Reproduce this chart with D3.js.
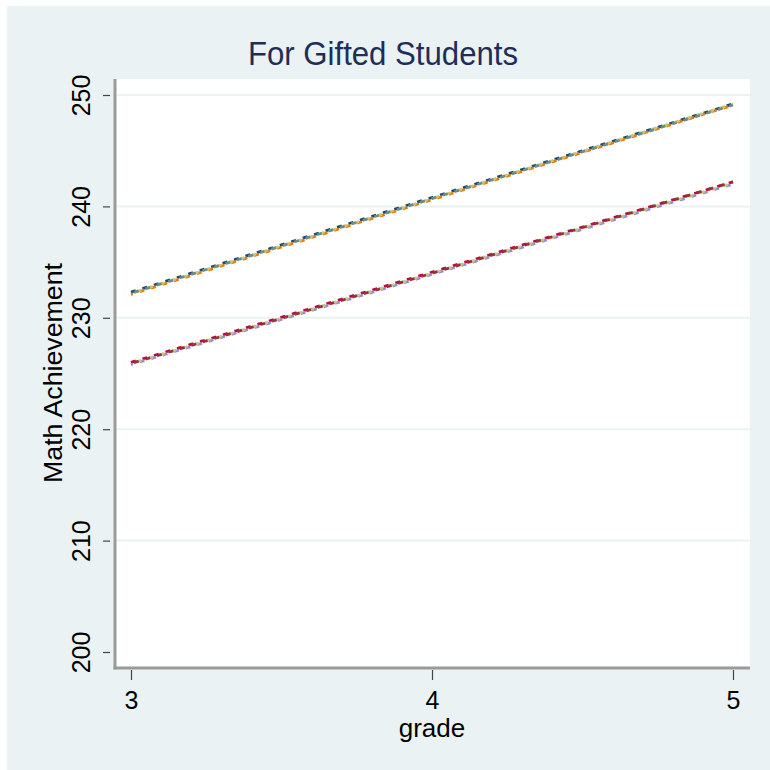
<!DOCTYPE html>
<html>
<head>
<meta charset="utf-8">
<script src="https://cdn.jsdelivr.net/npm/d3@7"></script>
<style>
  html, body { margin: 0; padding: 0; background: #eaf2f3; overflow: hidden; }
  svg { display: block; }
  text { font-family: "Liberation Sans", Arial, sans-serif; }
</style>
</head>
<body>
<script>
// ---- data ----
const grades = [3, 4, 5];
const yTicks = [200, 210, 220, 230, 240, 250];
const xTicks = [3, 4, 5];
const titleText = "For Gifted Students";
const xTitle = "grade";
const yTitle = "Math Achievement";

// upper group of overlapping fitted lines
const upperA = [232.3, 240.8, 249.2];
const upperB = [232.1, 240.6, 249.1];
const upperC = [232.2, 240.7, 249.2];
const upperD = [232.2, 240.7, 249.1];
// lower group of overlapping fitted lines
const lowerA = [226.0, 234.1, 242.2];
const lowerB = [225.8, 233.9, 242.0];
const lowerC = [225.9, 234.0, 242.1];
const lowerD = [225.9, 234.0, 242.2];

const seriesValues = [upperA, upperB, upperC, upperD, lowerA, lowerB, lowerC, lowerD];
const seriesColors = ["#1a476f", "#e37e00", "#cac27e", "#6e8e84",
                      "#c10534", "#938dd2", "#cac27e", "#90353b"];

// ---- drawing ----
const W = 770, H = 770;
const svg = d3.select("body").append("svg").attr("width", W).attr("height", H);

// white outer strips (top / left)
svg.append("rect").attr("x", 0).attr("y", 0).attr("width", W).attr("height", H).attr("fill", "#ffffff");
svg.append("rect").attr("x", 7).attr("y", 6).attr("width", W - 7).attr("height", H - 6)
  .attr("fill", "#eaf2f3");

const plot = { left: 115, right: 750, top: 79, bottom: 668 };
svg.append("rect").attr("x", plot.left).attr("y", plot.top)
  .attr("width", plot.right - plot.left).attr("height", plot.bottom - plot.top)
  .attr("fill", "#ffffff");

const x = d3.scaleLinear().domain([3, 5]).range([131, 733]);
const y = d3.scaleLinear().domain([200, 250]).range([652, 95]);

// gridlines
svg.append("g").selectAll("line").data(yTicks.filter(d => d > 200)).join("line")
  .attr("x1", plot.left + 2).attr("x2", plot.right)
  .attr("y1", d => y(d)).attr("y2", d => y(d))
  .attr("stroke", "#eaf2f3").attr("stroke-width", 2);

// axes
const yAxis = d3.axisLeft(y).tickValues(yTicks).tickFormat(d3.format("d")).tickSize(7).tickPadding(5);
const gy = svg.append("g").attr("transform", `translate(${plot.left - 5},0)`).call(yAxis);
gy.select(".domain").remove();
gy.selectAll(".tick line").attr("stroke", "#444").attr("stroke-width", 1.2);
gy.selectAll(".tick text")
  .attr("font-size", 25).attr("fill", "#000")
  .attr("x", null).attr("dy", null).attr("y", 0)
  .attr("text-anchor", "middle")
  .attr("transform", `translate(-20,0) rotate(-90)`);

const xAxis = d3.axisBottom(x).tickValues(xTicks).tickFormat(d3.format("d")).tickSize(10).tickPadding(6);
const gx = svg.append("g").attr("transform", `translate(0,${plot.bottom + 2})`).call(xAxis);
gx.select(".domain").remove();
gx.selectAll(".tick line").attr("stroke", "#444").attr("stroke-width", 1.2);
gx.selectAll(".tick text").attr("font-size", 25).attr("fill", "#000").attr("dy", "0.9em");

// axis lines
svg.append("line").attr("x1", plot.left).attr("x2", plot.left)
  .attr("y1", plot.top).attr("y2", plot.bottom + 1.5)
  .attr("stroke", "#9a9a9a").attr("stroke-width", 3);
svg.append("line").attr("x1", plot.left - 1.5).attr("x2", plot.right)
  .attr("y1", plot.bottom).attr("y2", plot.bottom)
  .attr("stroke", "#9a9a9a").attr("stroke-width", 3);

// lines
const line = d3.line().x((d, i) => x(grades[i])).y(d => y(d));
svg.append("g").selectAll("path").data(seriesValues).join("path")
  .attr("d", d => line(d))
  .attr("fill", "none")
  .attr("stroke", (d, i) => seriesColors[i])
  .attr("stroke-width", 2.8)
  .attr("stroke-dasharray", "5,7")
  .attr("stroke-dashoffset", (d, i) => (i % 4) * 3);

// titles
svg.append("text").attr("x", 383).attr("y", 65).attr("text-anchor", "middle")
  .attr("font-size", 34).attr("fill", "#1e2d5a")
  .attr("textLength", 270).attr("lengthAdjust", "spacingAndGlyphs")
  .text(titleText);

svg.append("text").attr("x", 432).attr("y", 737).attr("text-anchor", "middle")
  .attr("font-size", 26).attr("fill", "#000").text(xTitle);

svg.append("text").attr("transform", `translate(62,373) rotate(-90)`)
  .attr("text-anchor", "middle").attr("font-size", 26).attr("fill", "#000")
  .attr("textLength", 220).attr("lengthAdjust", "spacingAndGlyphs")
  .text(yTitle);
</script>
</body>
</html>
